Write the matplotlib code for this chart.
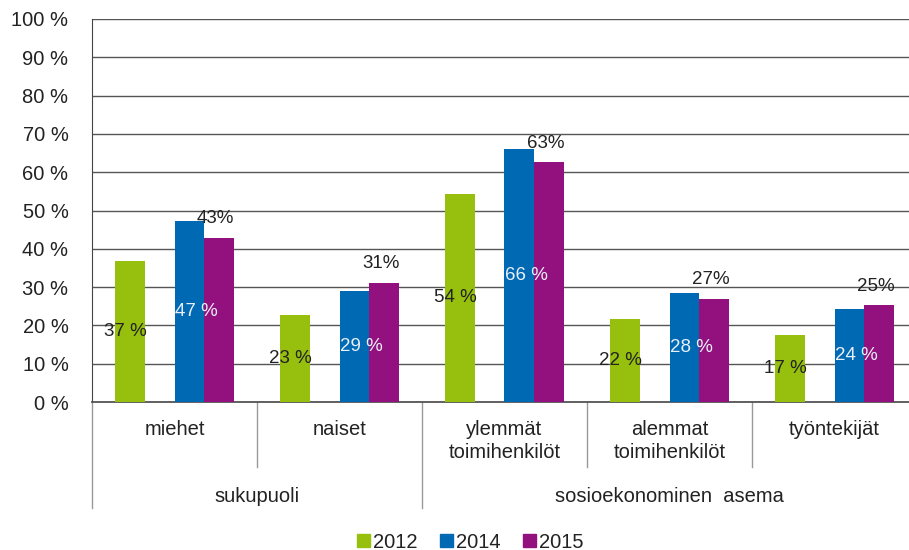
import matplotlib
matplotlib.use("Agg")
import matplotlib.pyplot as plt
from matplotlib.patches import Patch
import numpy as np

plt.rcParams["font.family"] = ["Liberation Sans", "DejaVu Sans"]
plt.rcParams["text.color"] = "#222222"

categories = ["miehet", "naiset", "ylemmät\ntoimihenkilöt",
              "alemmat\ntoimihenkilöt", "työntekijät"]
groups = ["sukupuoli", "sosioekonominen  asema"]
group_spans = [(0, 2), (2, 5)]
years = ["2012", "2014", "2015"]
v2012 = [36.8, 22.6, 54.4, 21.7, 17.4]
v2014 = [47.2, 29.0, 66.0, 28.4, 24.3]
v2015 = [42.9, 31.1, 62.6, 26.9, 25.2]
colors = ["#97bf0d", "#0069b4", "#93117e"]

W, H = 909, 550
fig = plt.figure(figsize=(W / 100, H / 100), dpi=100)
ax = fig.add_axes([92 / W, 1 - 402 / H, (917 - 92) / W, (402 - 19) / H])

x = np.arange(len(categories))
bw = 0.18
offs = [-1.5 * bw, 0.5 * bw, 1.5 * bw]
for vals, off, c in zip([v2012, v2014, v2015], offs, colors):
    ax.bar(x + off, vals, bw, color=c, zorder=3)

# data labels
for i in range(len(categories)):
    ax.text(x[i] + offs[0] - 0.03, v2012[i] / 2, f"{round(v2012[i])} %",
            ha="center", va="center", fontsize=13.5, color="#222222", zorder=4)
    ax.text(x[i] + offs[1] + 0.04, v2014[i] / 2, f"{round(v2014[i])} %",
            ha="center", va="center", fontsize=13.5, color="#e8f0f8", zorder=4)
    ax.text(x[i] + offs[2] - 0.02, v2015[i] + 5, f"{round(v2015[i])}%",
            ha="center", va="center", fontsize=13.5, color="#222222", zorder=4)

ax.set_xlim(-0.5, len(categories) - 0.5)
ax.set_ylim(0, 100)
ax.set_yticks(range(0, 101, 10))
ax.set_yticklabels([f"{t} %" for t in range(0, 101, 10)], fontsize=14.5)
ax.tick_params(axis="y", length=0, pad=17, colors="#222222")
ax.set_xticks([])
ax.grid(axis="y", color="#555555", linewidth=1.0, zorder=0)
for s in ["top", "right"]:
    ax.spines[s].set_visible(False)
ax.spines["left"].set_color("#444444")
ax.spines["bottom"].set_color("#555555")
ax.spines["bottom"].set_linewidth(1.3)

# multi-level category axis
ah = 402 - 19
trans = ax.get_xaxis_transform()
for b in range(1, len(categories)):
    outer = any(b == s for s, e in group_spans)
    ybot = -(508 - 402) / ah if outer else -(467 - 402) / ah
    ax.plot([b - 0.5, b - 0.5], [0, ybot], color="#999999", lw=1,
            transform=trans, clip_on=False)
ax.plot([-0.5, -0.5], [0, -(508 - 402) / ah], color="#999999", lw=1,
        transform=trans, clip_on=False)
for i, lab in enumerate(categories):
    ax.text(x[i], -(420 - 402) / ah, lab, ha="center", va="top",
            fontsize=14.5, linespacing=1.3, transform=trans)
for (s, e), lab in zip(group_spans, groups):
    ax.text((s + e - 1) / 2, -(497 - 402) / ah, lab, ha="center",
            va="center", fontsize=14.5, transform=trans)

handles = [Patch(color=c, label=y) for c, y in zip(colors, years)]
fig.legend(handles=handles, loc="center", bbox_to_anchor=(470 / W, 1 - 542 / H),
           ncol=3, frameon=False, fontsize=14.5, handlelength=0.65,
           handleheight=0.65, handletextpad=0.15, columnspacing=1.1)

fig.savefig("out.png", dpi=100)
